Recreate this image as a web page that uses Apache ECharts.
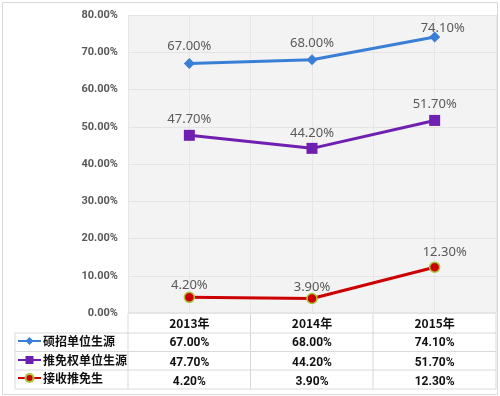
<!DOCTYPE html>
<html>
<head>
<meta charset="utf-8">
<script src="https://cdn.jsdelivr.net/npm/echarts@6/dist/echarts.min.js"></script>
<style>
  html, body { margin: 0; padding: 0; background: #fff; }
  #main { width: 500px; height: 396px; }
</style>
</head>
<body>
<div id="main"></div>
<script>
var years = ["2013年", "2014年", "2015年"];
var seriesNames = ["硕招单位生源", "推免权单位生源", "接收推免生"];
var shuozhao = [67.0, 68.0, 74.1];
var tuimianquan = [47.7, 44.2, 51.7];
var jieshou = [4.2, 3.9, 12.3];
var yTicks = [0, 10, 20, 30, 40, 50, 60, 70, 80];

var lineColors = ["#3a7fd6", "#7020b0", "#cc0000"];
var textGray = "#595959";
var borderGray = "#d9d9d9";

function pct(v) {
  return v.toFixed(2) + "%";
}

var plotLeft = 128, plotRight = 496, plotTop = 15, plotBottom = 313;
var rowY = [313, 333, 351.5, 370, 389];
var colX = [128, 250.5, 373, 496];

// 数据标签位置微调
var labelOffsets = [
  [[0, -1], [0, 0], [8, 7]],
  [[0, 0], [0, 1], [0, 0]],
  [[0, 4], [0, 5], [10, 1]]
];

function buildSeries(name, values, idx, symbol, size) {
  return {
    name: name,
    type: "line",
    data: values.map(function(v, i) {
      return { value: v, label: { offset: labelOffsets[idx][i] } };
    }),
    symbol: symbol,
    symbolSize: size,
    lineStyle: { color: lineColors[idx], width: 3 },
    itemStyle: idx === 2
      ? { color: lineColors[idx], borderColor: "#a8c838", borderWidth: 1.5 }
      : { color: lineColors[idx] },
    label: {
      show: true,
      position: "top",
      distance: 4,
      color: textGray,
      fontSize: 13,
      fontFamily: "Noto Sans",
      formatter: function(p) { return pct(p.value); }
    },
    z: 5
  };
}

var tableLines = [];
// 横线
tableLines.push({ type: "line", shape: { x1: plotLeft, y1: rowY[0], x2: plotRight, y2: rowY[0] } });
for (var r = 1; r < rowY.length; r++) {
  tableLines.push({ type: "line", shape: { x1: 15, y1: rowY[r], x2: plotRight, y2: rowY[r] } });
}
// 竖线
tableLines.push({ type: "line", shape: { x1: 15, y1: rowY[1], x2: 15, y2: rowY[4] } });
colX.forEach(function(x) {
  tableLines.push({ type: "line", shape: { x1: x, y1: rowY[0], x2: x, y2: rowY[4] } });
});
tableLines.forEach(function(l) {
  l.style = { stroke: borderGray, lineWidth: 1 };
  l.silent = true;
});

function valueAxis(values, offset) {
  return {
    type: "category",
    data: values.map(pct),
    position: "bottom",
    offset: offset,
    axisLine: { show: false },
    axisTick: { show: false },
    axisLabel: {
      color: "#111",
      fontSize: 12,
      fontWeight: "bold",
      fontFamily: "Roboto",
      margin: 0,
      verticalAlign: "middle"
    }
  };
}

function rowLegend(name, y) {
  return {
    orient: "vertical",
    left: 17,
    top: y,
    itemWidth: 23,
    itemHeight: 10,
    padding: 0,
    data: [name],
    textStyle: {
      color: "#111",
      fontSize: 12,
      fontWeight: "bold",
      fontFamily: "Noto Sans CJK SC",
      padding: [0, 0, 0, -3]
    }
  };
}

var chart = echarts.init(document.getElementById("main"));
chart.setOption({
  backgroundColor: "#fff",
  animation: false,
  grid: {
    left: plotLeft,
    right: 500 - plotRight,
    top: plotTop,
    bottom: 396 - plotBottom,
    show: true,
    borderWidth: 0,
    backgroundColor: "#f3f3f3"
  },
  legend: [
    rowLegend(seriesNames[0], 335),
    rowLegend(seriesNames[1], 354),
    rowLegend(seriesNames[2], 372)
  ],
  xAxis: [
    {
      type: "category",
      data: years,
      axisLine: { show: false },
      axisTick: { show: false },
      axisLabel: {
        color: "#111",
        fontSize: 12,
        fontWeight: "bold",
        fontFamily: "Noto Sans CJK SC",
        margin: 10,
        verticalAlign: "middle"
      },
      splitLine: { show: false }
    },
    valueAxis(shuozhao, 30),
    valueAxis(tuimianquan, 50),
    valueAxis(jieshou, 69),
    {
      type: "value",
      min: 0,
      max: 6,
      interval: 1,
      show: true,
      axisLine: { show: false },
      axisTick: { show: false },
      axisLabel: { show: false },
      splitLine: { show: true, lineStyle: { color: "#e6e6e6", width: 1 } }
    }
  ],
  yAxis: {
    type: "value",
    min: yTicks[0],
    max: yTicks[yTicks.length - 1],
    interval: 10,
    axisLine: { show: false },
    axisTick: { show: false },
    axisLabel: {
      color: textGray,
      fontSize: 11,
      fontWeight: "bold",
      fontFamily: "Roboto",
      margin: 10,
      formatter: function(v) { return pct(v); }
    },
    splitLine: { lineStyle: { color: "#e4e4e4", width: 1 } }
  },
  series: [
    buildSeries(seriesNames[0], shuozhao, 0, "diamond", 11),
    buildSeries(seriesNames[1], tuimianquan, 1, "rect", 11),
    buildSeries(seriesNames[2], jieshou, 2, "circle", 10)
  ],
  graphic: tableLines.concat([
    {
      type: "rect",
      shape: { x: 2.5, y: 2.5, width: 495, height: 392 },
      style: { fill: "none", stroke: borderGray, lineWidth: 1 },
      silent: true
    }
  ])
});
</script>
</body>
</html>
